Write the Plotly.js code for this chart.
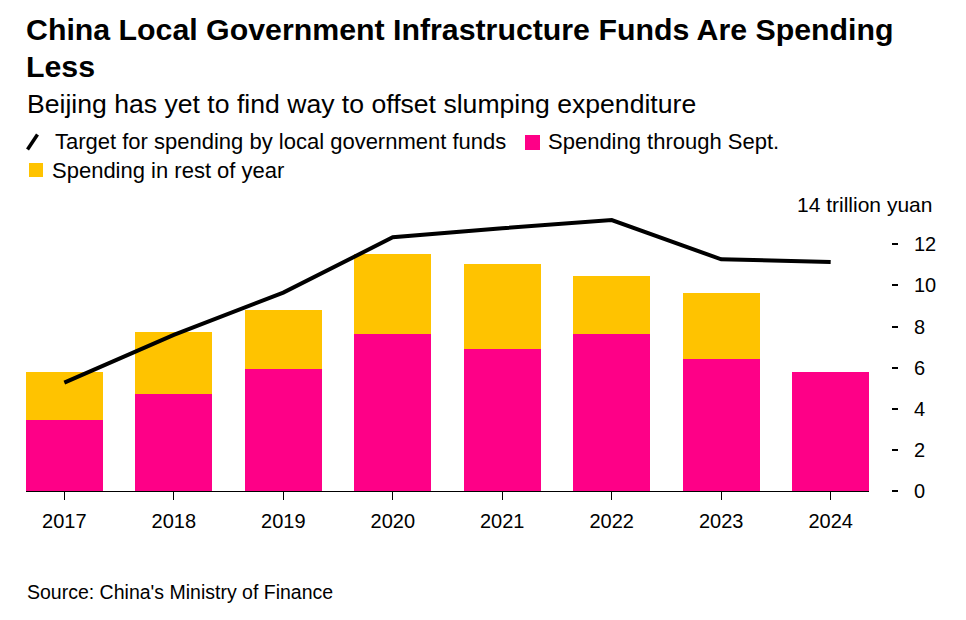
<!DOCTYPE html>
<html>
<head>
<meta charset="utf-8">
<script src="https://cdn.plot.ly/plotly-3.0.1.min.js"></script>
<style>html,body{margin:0;padding:0;background:#fff;}#chart{width:966px;height:620px;}</style>
</head>
<body>
<div id="chart"></div>
<script>
// ---- data (trillion yuan) ----
const years = ['2017', '2018', '2019', '2020', '2021', '2022', '2023', '2024'];
const spendingThroughSept = [3.45, 4.73, 5.95, 7.62, 6.91, 7.64, 6.41, 5.79];
const spendingRestOfYear = [2.32, 2.99, 2.85, 3.89, 4.13, 2.82, 3.21, 0];
const targetSpending = [5.27, 7.59, 9.65, 12.34, 12.78, 13.18, 11.27, 11.14];
const yTickValues = [0, 2, 4, 6, 8, 10, 12];
const yTickLabels = ['0', '2', '4', '6', '8', '10', '12'];

const W = 966, H = 620;
const px = x => x / W;
const py = y => 1 - y / H;
const FONT = 'Liberation Sans, Arial, sans-serif';
const MAGENTA = '#fe0087';
const YELLOW = '#ffc300';

const traces = [
  {type: 'bar', x: years, y: spendingThroughSept, marker: {color: MAGENTA}, name: 'Spending through Sept.', hoverinfo: 'skip'},
  {type: 'bar', x: years, y: spendingRestOfYear, marker: {color: YELLOW}, name: 'Spending in rest of year', hoverinfo: 'skip'},
  {type: 'scatter', mode: 'lines', x: years, y: targetSpending, line: {color: '#000', width: 4}, name: 'Target', hoverinfo: 'skip', cliponaxis: false}
];

function ann(text, x, y, size, opts) {
  return Object.assign({text: text, x: px(x), y: py(y), xref: 'paper', yref: 'paper', showarrow: false,
    xanchor: 'left', yanchor: 'middle', font: {family: FONT, size: size, color: '#000'}}, opts || {});
}

const layout = {
  width: W, height: H,
  margin: {l: 0, r: 0, t: 0, b: 0},
  paper_bgcolor: '#fff', plot_bgcolor: '#fff',
  showlegend: false,
  barmode: 'stack',
  bargap: 0.3,
  font: {family: FONT, color: '#000'},
  xaxis: {
    domain: [px(26), px(869)],
    type: 'category',
    range: [-0.35, 7.35],
    showline: true, linecolor: '#000', linewidth: 1,
    ticks: 'outside', ticklen: 8, tickwidth: 1, tickcolor: '#000',
    showgrid: false, zeroline: false,
    tickfont: {family: FONT, size: 20, color: '#000'},
    ticklabelstandoff: 4,
    fixedrange: true
  },
  yaxis: {
    domain: [129 / H, (H - 203.2) / H],
    range: [0, 14],
    anchor: 'free', position: px(891), side: 'right',
    showline: false, showgrid: false, zeroline: false,
    ticks: 'outside', ticklen: 6, tickwidth: 2, tickcolor: '#000',
    tickvals: yTickValues, ticktext: yTickLabels,
    tickfont: {family: FONT, size: 20, color: '#000'},
    ticklabelstandoff: 12,
    fixedrange: true
  },
  shapes: [
    {type: 'line', xref: 'paper', yref: 'paper', x0: px(27.5), y0: py(149.5), x1: px(37.5), y1: py(134.5), line: {color: '#000', width: 3.5}},
    {type: 'rect', xref: 'paper', yref: 'paper', x0: px(525), y0: py(135), x1: px(540), y1: py(150), fillcolor: MAGENTA, line: {width: 0}},
    {type: 'rect', xref: 'paper', yref: 'paper', x0: px(29), y0: py(163), x1: px(43), y1: py(177), fillcolor: YELLOW, line: {width: 0}}
  ],
  annotations: [
    ann('<b>China Local Government Infrastructure Funds Are Spending</b>', 24, 30, 30.3),
    ann('<b>Less</b>', 24, 66, 30.3),
    ann('Beijing has yet to find way to offset slumping expenditure', 25, 104, 26.6),
    ann('Target for spending by local government funds', 53, 142, 22),
    ann('Spending through Sept.', 546, 142, 22),
    ann('Spending in rest of year', 50, 170, 22),
    ann('14 trillion yuan', 934, 205, 21, {xanchor: 'right'}),
    ann('Source: China\'s Ministry of Finance', 25, 592, 19.5)
  ]
};

Plotly.newPlot('chart', traces, layout, {staticPlot: true, displayModeBar: false});
</script>
</body>
</html>
